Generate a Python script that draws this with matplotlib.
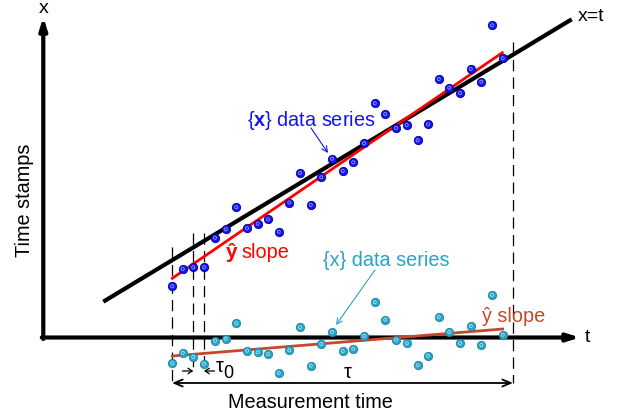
import matplotlib
matplotlib.use("Agg")
import matplotlib.pyplot as plt

plt.rcParams['font.family'] = ['Liberation Sans', 'DejaVu Sans']
plt.rcParams['mathtext.fontset'] = 'custom'
plt.rcParams['mathtext.rm'] = 'Liberation Sans'
plt.rcParams['mathtext.bf'] = 'Liberation Sans:bold'

# ---- data (in picture units: t to the right, x upward on screen = smaller y) ----
sample_t = [172.3, 182.7, 193.3, 204.0, 215.0, 225.7, 236.3, 247.0, 257.7, 268.0, 278.7,
            289.3, 300.0, 310.7, 321.3, 332.0, 342.7, 353.3, 364.0, 374.7, 385.3, 396.0,
            406.7, 417.7, 428.0, 438.7, 449.3, 460.0, 470.7, 481.3, 492.0, 502.7]
x_series = [286.3, 269.0, 267.3, 267.3, 237.7, 229.3, 207.3, 228.3, 223.7, 219.3, 231.7,
            202.5, 173.0, 205.0, 177.3, 158.7, 171.0, 162.3, 143.3, 103.3, 114.0, 128.0,
            125.0, 140.3, 124.3, 79.0, 87.7, 93.0, 69.0, 81.7, 25.3, 58.3]
dev_series = [363.3, 352.7, 357.0, 363.7, 340.7, 338.7, 323.3, 350.7, 352.3, 354.0, 372.8,
              350.3, 327.3, 365.7, 344.0, 332.0, 351.0, 348.7, 336.0, 302.3, 319.7, 339.7,
              343.3, 365.3, 355.7, 317.0, 332.0, 343.3, 326.0, 345.0, 295.0, 334.7]
ident_line = ([103.3, 571.7], [301.7, 19.3])
x_fit = ([172.3, 502.3], [278.3, 52.7])
dev_fit = ([172.3, 502.7], [356.0, 329.0])
origin = (43.3, 337.5)
t_end = 580
x_top = 17
tau_start, tau0_a, tau0_b, tau_end = 172.0, 193.3, 204.0, 513.0

BLUE = '#1414f0'
CYAN = '#2aa3c6'
ORANGE = '#c4492a'

fig = plt.figure(figsize=(6.18, 4.17), dpi=100)
ax = fig.add_axes([0, 0, 1, 1])
ax.set_xlim(0, 618)
ax.set_ylim(417, 0)
ax.axis('off')

# dashed verticals
dash = dict(color='black', lw=0.9, dashes=(9, 5))
ax.plot([tau_start, tau_start], [247, 383], **dash)
ax.plot([tau0_a, tau0_a], [233, 373], **dash)
ax.plot([tau0_b, tau0_b], [233, 371], **dash)
ax.plot([tau_end, tau_end], [42, 383], **dash)

# axes arrows
ax.annotate('', xy=(origin[0], x_top), xytext=(origin[0], origin[1] + 1.5),
            arrowprops=dict(arrowstyle='-|>,head_length=0.7,head_width=0.22', lw=3,
                            color='black', shrinkA=0, shrinkB=0))
ax.annotate('', xy=(t_end, origin[1]), xytext=(origin[0] - 1.5, origin[1]),
            arrowprops=dict(arrowstyle='-|>,head_length=0.7,head_width=0.22', lw=3,
                            color='black', shrinkA=0, shrinkB=0))
ax.text(origin[0], 8, 'x', fontsize=14, ha='center', va='center')
ax.text(587, origin[1], 't', fontsize=14, ha='center', va='center')
ax.text(25, 200, 'Time stamps', fontsize=14.3, rotation=90, ha='center', va='center')

# lines
ax.plot(*ident_line, color='black', lw=3, solid_capstyle='butt', zorder=3)
ax.plot(*x_fit, color='#ff0000', lw=2, zorder=4)
ax.plot(*dev_fit, color=ORANGE, lw=2, zorder=4)

# points
ax.scatter(sample_t, x_series, s=36, color=BLUE, edgecolors='#0000a0', linewidths=0.6, zorder=5)
ax.scatter(sample_t, x_series, s=5, facecolors='none', edgecolors='#9a9aff', linewidths=0.6, zorder=6)
ax.scatter(sample_t, dev_series, s=36, color=CYAN, edgecolors='#1a88a8', linewidths=0.6, zorder=5)
ax.scatter(sample_t, dev_series, s=5, facecolors='none', edgecolors='#a8e0f0', linewidths=0.6, zorder=6)

ax.text(578, 16.7, 'x=t', fontsize=14, ha='left', va='center')

# labels
ax.text(246.7, 120, r'{$\mathbf{x}$} data series', fontsize=14.3, color=BLUE, ha='left', va='center')
ax.annotate('', xy=(328, 153), xytext=(311, 128),
            arrowprops=dict(arrowstyle='->', lw=0.8, color=BLUE, shrinkA=0, shrinkB=0))
ax.text(232, 252, 'ŷ', fontsize=15, fontweight='bold', color='#ff0000', ha='center', va='center')
ax.text(241.5, 252, 'slope', fontsize=14.3, color='#ff0000', ha='left', va='center')

ax.text(322.7, 261, '{x} data series', fontsize=14.3, color=CYAN, ha='left', va='center')
ax.annotate('', xy=(336, 325), xytext=(375, 270),
            arrowprops=dict(arrowstyle='->', lw=0.8, color=CYAN, shrinkA=0, shrinkB=0))
ax.text(481.7, 316, 'ŷ slope', fontsize=14.3, color=ORANGE, ha='left', va='center')

# tau0 arrows
ax.annotate('', xy=(tau0_a, 371), xytext=(182.5, 371),
            arrowprops=dict(arrowstyle='->,head_length=0.3,head_width=0.2', lw=0.9, color='black',
                            shrinkA=0, shrinkB=0))
ax.annotate('', xy=(tau0_b, 371), xytext=(214.5, 371),
            arrowprops=dict(arrowstyle='->,head_length=0.3,head_width=0.2', lw=0.9, color='black',
                            shrinkA=0, shrinkB=0))
ax.text(215.5, 366, 'τ', fontsize=14.3, ha='left', va='center')
ax.text(223.5, 374, '0', fontsize=13, ha='left', va='center')

# tau arrow
ax.annotate('', xy=(tau_start, 383), xytext=(tau_end, 383),
            arrowprops=dict(arrowstyle='<->,head_length=0.6,head_width=0.25', lw=1.3, color='black',
                            shrinkA=0, shrinkB=0))
ax.text(347.5, 372, 'τ', fontsize=14.3, ha='center', va='center')
ax.text(310.5, 403, 'Measurement time', fontsize=14.3, ha='center', va='center')

fig.savefig('out.png', dpi=100)
